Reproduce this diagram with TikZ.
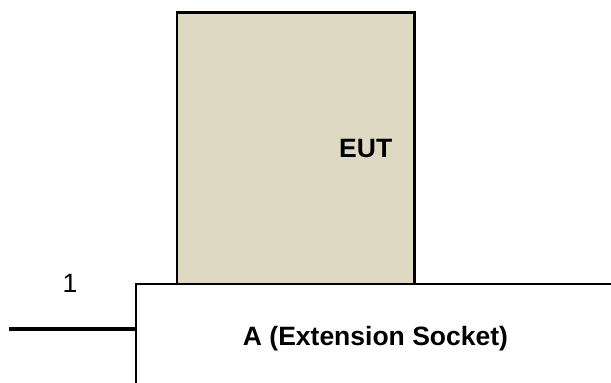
\documentclass[tikz,border=0pt]{standalone}
\usepackage{fontspec}
\setmainfont{Liberation Sans}
\usepackage{tikz}
\definecolor{eutfill}{HTML}{DDD9C3}

\begin{document}
\begin{tikzpicture}[x=1pt,y=-1pt,
    box_node/.style={rectangle,draw,line width=2.2pt,inner sep=0pt},
    lbl_node/.style={inner sep=0pt,anchor=base,font=\fontsize{26.5}{31}\selectfont},
    lead/.style={line width=3.2pt}]
    \useasboundingbox (0,0) rectangle (611,383);
    \clip (0,0) rectangle (611,383);
	\node[box_node,fill=eutfill,minimum width=237.5pt,minimum height=272pt] (eut) at (295.75,148.5) {};
    \node[box_node,fill=white,minimum width=564pt,minimum height=166pt] (socket) at (418,367) {};
    \node[lbl_node,font=\fontsize{26.5}{31}\selectfont\bfseries] (eut_txt) at (365.7,157.3) {EUT};
    \node[lbl_node,font=\fontsize{26.5}{31}\selectfont\bfseries] (socket_txt) at (375.5,345.7) {A (Extension Socket)};
    \node[lbl_node] (1) at (70,292.3) {1};
    \coordinate (lead_end) at (9,329);
    \draw[lead] (lead_end) -- (lead_end -| socket.west);
\end{tikzpicture}
\end{document}
